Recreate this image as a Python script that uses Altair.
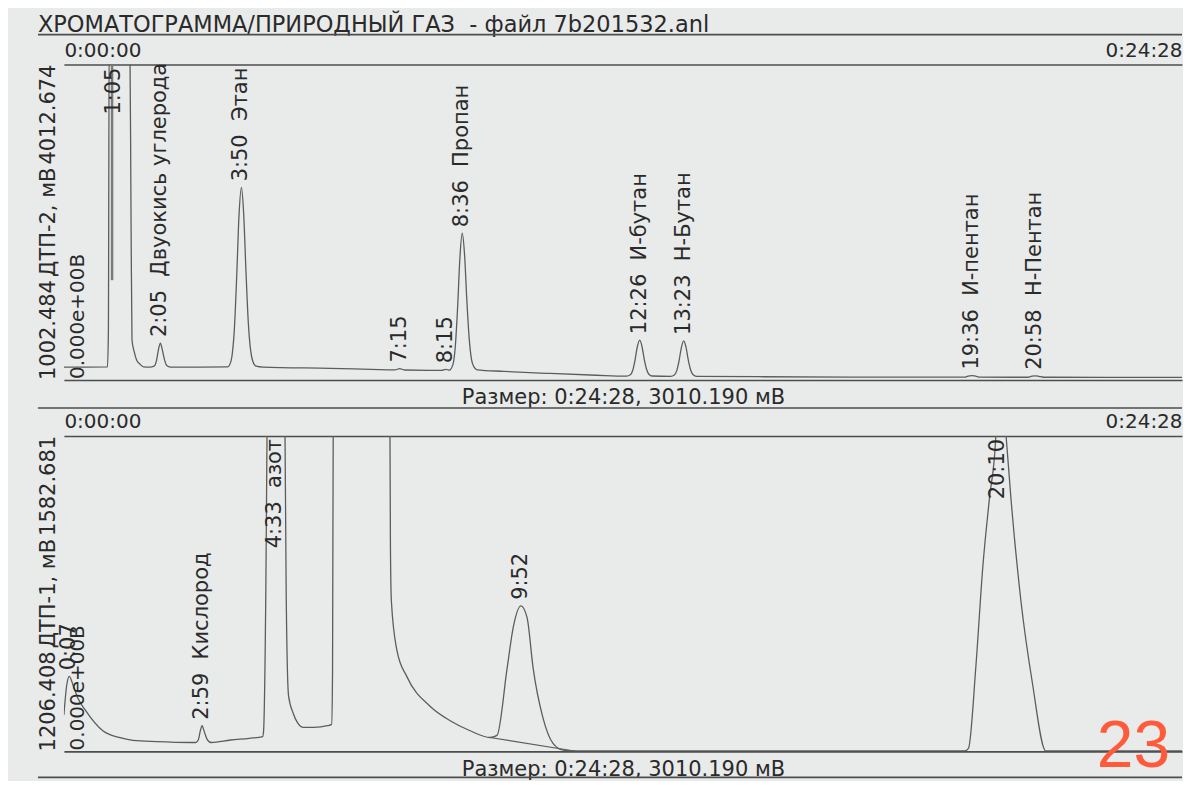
import altair as alt
import pandas as pd

FONT = "DejaVu Sans"
INK = "#2a2a2a"
TRACE = "#5c5c5c"
FRAME = "#4d4d4d"
PAPER = "#e9ebea"
SP2 = "\u00a0\u00a0"  # double space kept visible in SVG

W = 1120
H = 316
XMAX = 24.14  # minutes visible in the photo (run length is 0:24:28)

TITLE = "ХРОМАТОГРАММА/ПРИРОДНЫЙ ГАЗ" + SP2 + "- файл 7b201532.anl"
SIZE_TEXT = "Размер: 0:24:28, 3010.190 мВ"

# ---------------- top panel: ДТП-2 ----------------
TOP_YMIN, TOP_YMAX = 1002.484, 4012.674
top_t = [0.00, 0.50, 0.94, 0.96, 0.98, 1.42, 1.45, 1.47, 1.52, 1.57, 1.64, 1.72,
         1.85, 1.95, 2.00, 2.04, 2.083, 2.12, 2.17, 2.22, 2.30,
         3.53, 3.58, 3.63, 3.68, 3.73, 3.78, 3.833, 3.88, 3.93, 3.98, 4.03, 4.08, 4.15, 4.30,
         5.75, 7.00, 7.15, 7.25, 7.35, 8.15, 8.25, 8.32,
         8.40, 8.45, 8.50, 8.55, 8.60, 8.65, 8.70, 8.75, 8.80, 8.85, 8.92,
         9.50, 10.50, 11.50,
         12.15, 12.23, 12.28, 12.33, 12.38, 12.433, 12.48, 12.53, 12.58, 12.63, 12.70,
         13.10, 13.18, 13.23, 13.28, 13.33, 13.383, 13.43, 13.48, 13.53, 13.58, 13.66,
         15.00, 17.00, 19.45, 19.52, 19.60, 19.68, 19.78,
         20.82, 20.90, 20.967, 21.05, 21.15, 22.50, 24.14]
top_v = [1126, 1126, 1127, 1450, 4500, 4500, 2500, 1384, 1269, 1193, 1155, 1128,
         1126, 1135, 1190, 1290, 1355, 1300, 1200, 1140, 1126,
         1127, 1148, 1234, 1486, 1984, 2568, 2841, 2600, 2050, 1560, 1290, 1180, 1135, 1126,
         1114, 1100, 1099, 1112, 1098, 1095, 1105, 1096,
         1152, 1320, 1694, 2171, 2403, 2200, 1760, 1400, 1200, 1130, 1100,
         1085, 1065, 1048,
         1040, 1053, 1094, 1191, 1320, 1383, 1325, 1200, 1105, 1058, 1041,
         1038, 1051, 1090, 1183, 1310, 1376, 1318, 1195, 1100, 1055, 1038,
         1034, 1031, 1030, 1040, 1045, 1040, 1030,
         1029, 1040, 1043, 1038, 1029, 1028, 1027]

top_lab_t = [2.083, 3.833, 7.25, 8.25, 8.60, 12.433, 13.383, 19.60, 20.967]
top_lab_v = [1355, 2841, 1112, 1105, 2403, 1383, 1376, 1045, 1043]
top_lab_txt = ["2:05" + SP2 + "Двуокись углерода", "3:50" + SP2 + "Этан", "7:15", "8:15",
               "8:36" + SP2 + "Пропан", "12:26" + SP2 + "И-бутан", "13:23" + SP2 + "Н-Бутан",
               "19:36" + SP2 + "И-пентан", "20:58" + SP2 + "Н-Пентан"]
top_off_t = [1.083]
top_off_txt = ["1:05"]

# ---------------- bottom panel: ДТП-1 ----------------
BOT_YMIN, BOT_YMAX = 1206.408, 1582.681
bot_t = [0.00, 0.06, 0.117, 0.20, 0.30, 0.47, 0.84, 1.19, 1.49, 2.00, 2.74,
         2.85, 2.90, 2.95, 2.983, 3.03, 3.10, 3.18, 3.60, 4.00, 4.29,
         4.31, 4.36, 4.40, 4.55, 4.76, 4.80, 4.85, 4.95, 5.04, 5.17, 5.40, 5.69, 5.78,
         5.80, 5.82, 6.40, 7.03, 7.05, 7.07, 7.19, 7.41, 7.91, 8.34, 8.77, 9.20,
         9.35, 9.57, 9.70, 9.867, 10.00, 10.13, 10.34, 10.56, 10.78, 11.03,
         15.00, 19.45, 19.53, 19.69, 19.84, 19.98, 20.12, 20.20, 20.34, 20.45, 20.66,
         20.91, 21.20, 24.14]
bot_v = [1250, 1285, 1296, 1285, 1270, 1255, 1231, 1223, 1219.5, 1218, 1217,
         1217, 1220, 1232, 1237, 1230, 1220, 1217, 1220, 1222, 1224,
         1230, 1400, 1700, 2600, 1700, 1390, 1273, 1252, 1241, 1235, 1235, 1237, 1238.6,
         1300, 1700, 2600, 1700, 1450, 1386, 1327, 1295, 1260, 1243, 1231, 1223,
         1225.5, 1306, 1354, 1380, 1366, 1306, 1247, 1216, 1208, 1207,
         1207, 1207, 1210, 1308, 1427, 1507, 1582, 1700, 1584, 1506, 1387,
         1288, 1207, 1207]
skim_t = [9.20, 11.05]
skim_v = [1223, 1206.6]

bot_lab_t = [0.117, 2.983, 9.867]
bot_lab_v = [1296, 1237, 1380]
bot_lab_txt = ["0:07", "2:59" + SP2 + "Кислород", "9:52"]
bot_off_t = [4.55, 20.167]
bot_off_txt = ["4:33" + SP2 + "азот", "20:10"]

one = pd.DataFrame({"a": [0]})
xscale = alt.Scale(domain=[0, XMAX], nice=False, zero=False)


def x_top_axis():
    return alt.X("t:Q", scale=xscale, axis=alt.Axis(
        orient="top", values=[0, XMAX],
        labelExpr="datum.value == 0 ? '0:00:00' : '0:24:28'",
        labelFlush=True, ticks=False, tickSize=0, grid=False,
        domain=True, domainColor=FRAME, domainWidth=1.6,
        labelFont=FONT, labelFontSize=20, labelColor=INK, labelPadding=4,
        title=None))


def x_bottom_axis():
    return alt.X("t:Q", scale=xscale, axis=alt.Axis(
        orient="bottom", labels=False, ticks=False, tickSize=0, grid=False,
        domain=True, domainColor=FRAME, domainWidth=1.6,
        title=SIZE_TEXT, titleFont=FONT, titleFontSize=21,
        titleFontWeight="normal", titleColor=INK, titlePadding=7))


def panel(ts, vs, ymin, ymax, lab_t, lab_v, lab_txt, off_t, off_txt,
          ylab_min, ylab_mid, ylab_max, extras, sep_y, title=False):
    yscale = alt.Scale(domain=[ymin, ymax], nice=False, zero=False)
    trace = alt.Chart(pd.DataFrame({"t": ts, "v": vs})).mark_line(
        clip=True, interpolate="monotone", color=TRACE, strokeWidth=1.3
    ).encode(
        x=x_top_axis(),
        y=alt.Y("v:Q", scale=yscale, axis=alt.Axis(
            domain=True, domainColor=FRAME, domainWidth=1.6, ticks=False,
            tickSize=0, labels=False, grid=False, title=None)),
    )
    labels = alt.Chart(pd.DataFrame({"t": lab_t, "v": lab_v, "txt": lab_txt})).mark_text(
        angle=270, align="left", baseline="middle", dx=6,
        font=FONT, fontSize=21, color=INK
    ).encode(x=x_bottom_axis(), y=alt.Y("v:Q", scale=yscale, axis=None), text="txt:N")
    off = alt.Chart(pd.DataFrame({"t": off_t, "txt": off_txt})).mark_text(
        angle=270, align="right", baseline="middle", dx=-3,
        font=FONT, fontSize=21, color=INK
    ).encode(x=alt.X("t:Q", scale=xscale, axis=None),
             y=alt.Y(datum=ymax, scale=yscale, axis=None), text="txt:N")

    def ytext(val, txt, align):
        return alt.Chart(one).mark_text(
            angle=270, align=align, baseline="alphabetic",
            font=FONT, fontSize=21, color=INK
        ).encode(x=alt.value(-9), y=alt.Y(datum=val, scale=yscale, axis=None),
                 text=alt.value(txt))

    inner = alt.Chart(one).mark_text(
        angle=270, align="left", baseline="top", dx=1,
        font=FONT, fontSize=20, color=INK
    ).encode(x=alt.value(4), y=alt.Y(datum=ymin, scale=yscale, axis=None),
             text=alt.value("0.000e+00В"))

    sep = alt.Chart(one).mark_rule(color=FRAME, strokeWidth=1.6).encode(
        x=alt.value(-26), x2=alt.value(W), y=alt.value(sep_y))

    layers = [trace] + extras(yscale) + [labels, off,
              ytext(ymin, ylab_min, "left"),
              ytext((ymin + ymax) / 2, ylab_mid, "center"),
              ytext(ymax, ylab_max, "right"), inner, sep]
    if title:
        layers.append(alt.Chart(one).mark_text(
            align="left", baseline="alphabetic", font=FONT, fontSize=22.5, color=INK
        ).encode(x=alt.value(-26), y=alt.value(-33), text=alt.value(TITLE)))
        layers.append(alt.Chart(one).mark_rule(color=FRAME, strokeWidth=1.6).encode(
            x=alt.value(-26), x2=alt.value(W), y=alt.value(-30)))
    return alt.layer(*layers).resolve_axis(x="independent").properties(width=W, height=H)


def top_extras(yscale):
    marker = alt.Chart(one).mark_rule(color="#7a7a7a", strokeWidth=2.5).encode(
        x=alt.X(datum=1.04, scale=xscale, axis=None),
        y=alt.Y(datum=1955, scale=yscale, axis=None),
        y2=alt.datum(TOP_YMAX))
    return [marker]


def bottom_extras(yscale):
    skim = alt.Chart(pd.DataFrame({"t": skim_t, "v": skim_v})).mark_line(
        clip=True, color=TRACE, strokeWidth=1.2
    ).encode(x=alt.X("t:Q", scale=xscale, axis=None),
             y=alt.Y("v:Q", scale=yscale, axis=None))
    page = alt.Chart(one).mark_text(
        align="right", baseline="alphabetic",
        font="Liberation Sans Narrow, Liberation Sans",
        fontSize=66, color="#ff5a3c"
    ).encode(x=alt.value(W - 12), y=alt.value(332), text=alt.value("23"))
    return [skim, page]


top = panel(top_t, top_v, TOP_YMIN, TOP_YMAX, top_lab_t, top_lab_v, top_lab_txt,
            top_off_t, top_off_txt, "1002.484", "ДТП-2, мВ", "4012.674",
            top_extras, 344, title=True)
bottom = panel(bot_t, bot_v, BOT_YMIN, BOT_YMAX, bot_lab_t, bot_lab_v, bot_lab_txt,
               bot_off_t, bot_off_txt, "1206.408", "ДТП-1, мВ", "1582.681",
               bottom_extras, 342)

chart = alt.vconcat(top, bottom, spacing=3).properties(
    background=PAPER,
    padding={"left": 29, "top": 5, "right": 0, "bottom": 0},
).configure_view(strokeWidth=0)

chart.save("out.html", embed_options={"renderer": "svg", "actions": False})
